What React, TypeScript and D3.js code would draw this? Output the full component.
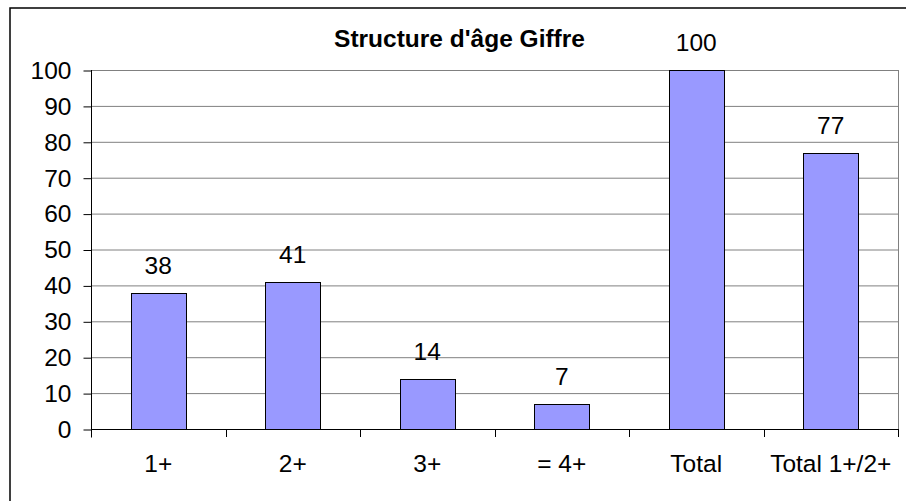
import React, { useEffect, useRef } from 'react'
import * as d3 from 'd3'

const categories = ['1+', '2+', '3+', '= 4+', 'Total', 'Total 1+/2+']
const values = [38, 41, 14, 7, 100, 77]
const yTicks = [0, 10, 20, 30, 40, 50, 60, 70, 80, 90, 100]
const title = "Structure d'âge Giffre"

const App = () => {
  const svgRef = useRef<SVGSVGElement>(null)

  useEffect(() => {
    if (!svgRef.current) return
    const w = 906
    const h = 501
    const plot = { left: 91, right: 898, top: 70, bottom: 429 }
    const font = '"Liberation Sans", Arial, sans-serif'
    const fontSize = 24.5

    const svg = d3.select(svgRef.current)
    svg.selectAll('*').remove()

    svg.append('rect').attr('width', w).attr('height', h).attr('fill', '#fff')

    // outer frame
    svg
      .append('rect')
      .attr('x', 10)
      .attr('y', 8)
      .attr('width', 920)
      .attr('height', 520)
      .attr('fill', 'none')
      .attr('stroke', '#000')
      .attr('stroke-width', 1.5)

    const x = d3
      .scaleBand<string>()
      .domain(categories)
      .range([plot.left, plot.right])
      .paddingInner(0.591)
      .paddingOuter(0.2955)
    const y = d3.scaleLinear().domain([0, 100]).range([plot.bottom, plot.top])

    // gridlines
    svg
      .append('g')
      .selectAll('line')
      .data(yTicks.filter((t) => t > 0))
      .join('line')
      .attr('x1', plot.left)
      .attr('x2', plot.right)
      .attr('y1', (d) => y(d) + 0.5)
      .attr('y2', (d) => y(d) + 0.5)
      .attr('stroke', '#808080')
      .attr('stroke-width', 1)

    // right plot border
    svg
      .append('line')
      .attr('x1', plot.right + 0.5)
      .attr('x2', plot.right + 0.5)
      .attr('y1', plot.top)
      .attr('y2', plot.bottom)
      .attr('stroke', '#808080')

    // y axis
    const yAxis = d3
      .axisLeft(y)
      .tickValues(yTicks)
      .tickSize(8)
      .tickPadding(12)
      .tickSizeOuter(0)
    svg
      .append('g')
      .attr('transform', `translate(${plot.left + 0.5},0.5)`)
      .call(yAxis)
      .call((g) => g.select('.domain').attr('stroke', '#000').attr('d', `M0,${plot.top - 0.5}V${plot.bottom + 8}`))
      .call((g) => g.selectAll('.tick line').attr('stroke', '#000'))
      .call((g) =>
        g
          .selectAll('.tick text')
          .attr('font-family', font)
          .attr('font-size', fontSize)
          .attr('fill', '#000'),
      )

    // bars
    svg
      .append('g')
      .selectAll('rect')
      .data(values)
      .join('rect')
      .attr('x', (d, i) => Math.round(x(categories[i]) as number) + 0.5)
      .attr('y', (d) => Math.round(y(d)) + 0.5)
      .attr('width', Math.round(x.bandwidth()))
      .attr('height', (d) => Math.round(y(0)) - Math.round(y(d)))
      .attr('fill', '#9999ff')
      .attr('stroke', '#000')
      .attr('stroke-width', 1)

    // x axis
    svg
      .append('line')
      .attr('x1', plot.left)
      .attr('x2', plot.right + 1)
      .attr('y1', plot.bottom + 0.5)
      .attr('y2', plot.bottom + 0.5)
      .attr('stroke', '#000')
    const step = x.step()
    svg
      .append('g')
      .selectAll('line')
      .data(d3.range(categories.length + 1))
      .join('line')
      .attr('x1', (i) => Math.round(plot.left + i * step) + 0.5)
      .attr('x2', (i) => Math.round(plot.left + i * step) + 0.5)
      .attr('y1', plot.bottom)
      .attr('y2', plot.bottom + 8)
      .attr('stroke', '#000')

    // category labels
    svg
      .append('g')
      .selectAll('text')
      .data(categories)
      .join('text')
      .attr('x', (d) => (x(d) as number) + x.bandwidth() / 2)
      .attr('y', 472)
      .attr('text-anchor', 'middle')
      .attr('font-family', font)
      .attr('font-size', fontSize)
      .attr('fill', '#000')
      .text((d) => d)

    // value labels
    svg
      .append('g')
      .selectAll('text')
      .data(values)
      .join('text')
      .attr('x', (d, i) => (x(categories[i]) as number) + x.bandwidth() / 2)
      .attr('y', (d) => y(d) - 19)
      .attr('text-anchor', 'middle')
      .attr('font-family', font)
      .attr('font-size', fontSize)
      .attr('fill', '#000')
      .text((d) => d)

    // title
    svg
      .append('text')
      .attr('x', 459.5)
      .attr('y', 47)
      .attr('text-anchor', 'middle')
      .attr('font-family', font)
      .attr('font-size', 24.5)
      .attr('font-weight', 'bold')
      .attr('fill', '#000')
      .text(title)
  }, [])

  return (
    <svg
      ref={svgRef}
      width={906}
      height={501}
      style={{ position: 'fixed', left: 0, top: 0, display: 'block' }}
    />
  )
}

export default App
